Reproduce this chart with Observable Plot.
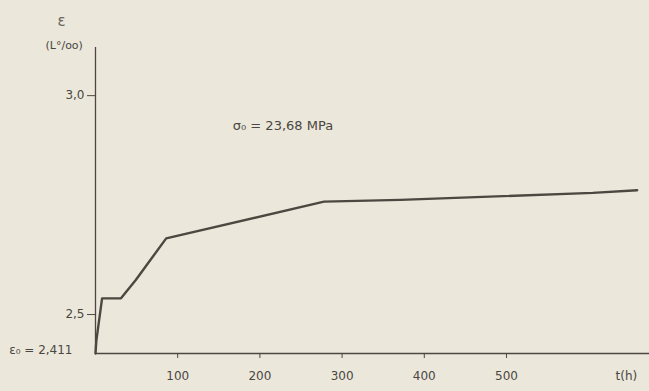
<!DOCTYPE html>
<html>
<head>
<meta charset="utf-8">
<script src="https://cdn.jsdelivr.net/npm/d3@7"></script>
<script src="https://cdn.jsdelivr.net/npm/@observablehq/plot@0.6"></script>
<style>
  html, body { margin: 0; padding: 0; background: #ebe8db; }
  #chart svg { display: block; }
</style>
</head>
<body>
<div id="chart"></div>
<script>
// Time (hours) and strain ε (‰)
const tHours = [0, 1, 8, 31, 49, 86, 278, 371, 605, 659];
const strain = [2.411, 2.44, 2.537, 2.537, 2.579, 2.674, 2.758, 2.762, 2.778, 2.784];

const xTicks = [100, 200, 300, 400, 500];
const yTicks = [2.5, 3.0];
const yBase = 2.411;
const xLabel = "t(h)";
const yLabelSymbol = "ε";
const yLabelUnit = "(L°/oo)";
const stressNote = "σ\u2080 = 23,68 MPa";
const stressNoteAt = [167, 2.93];
const baseNote = "ε\u2080 = 2,411";

const data = tHours.map((t, i) => ({t, e: strain[i]}));
const ink = "#4e4640";
const textInk = "#4a4642";
const fmt = d => d3.format(".1f")(d).replace(".", ",");

const chart = Plot.plot({
  width: 649,
  height: 391,
  marginLeft: 95,
  marginRight: 0,
  marginTop: 47,
  marginBottom: 38,
  style: {background: "#ebe8db", fontFamily: "'DejaVu Sans', sans-serif", fontSize: "12px", color: textInk},
  x: {domain: [0, 674], label: null},
  y: {domain: [yBase, 3.11], label: null},
  marks: [
    Plot.axisX({ticks: xTicks, tickSize: 5, tickPadding: 13, stroke: ink, fill: textInk, fontSize: 12, label: null}),
    Plot.axisY({ticks: yTicks, tickSize: 8, tickPadding: 3, stroke: ink, fill: textInk, fontSize: 12, tickFormat: fmt, label: null}),
    Plot.ruleX([0], {stroke: ink, strokeWidth: 1.3}),
    Plot.ruleY([yBase], {stroke: ink, strokeWidth: 1.3}),
    Plot.line(data, {x: "t", y: "e", stroke: ink, strokeWidth: 2.4, strokeLinejoin: "round"}),
    Plot.text([xLabel], {frameAnchor: "bottom-right", dx: -34, dy: 26, fill: textInk, fontSize: 12, textAnchor: "start"}),
    Plot.text([yLabelSymbol], {frameAnchor: "top-left", dx: -38, dy: -32, fill: "#6a6560", fontSize: 15}),
    Plot.text([yLabelUnit], {frameAnchor: "top-left", dx: -50, dy: -6, fill: textInk, fontSize: 11}),
    Plot.text([baseNote], {x: 0, y: yBase, dx: -23, dy: -3, textAnchor: "end", fill: textInk, fontSize: 12}),
    Plot.text([stressNote], {x: stressNoteAt[0], y: stressNoteAt[1], textAnchor: "start", fill: textInk, fontSize: 13})
  ]
});
document.getElementById("chart").appendChild(chart);
</script>
</body>
</html>
